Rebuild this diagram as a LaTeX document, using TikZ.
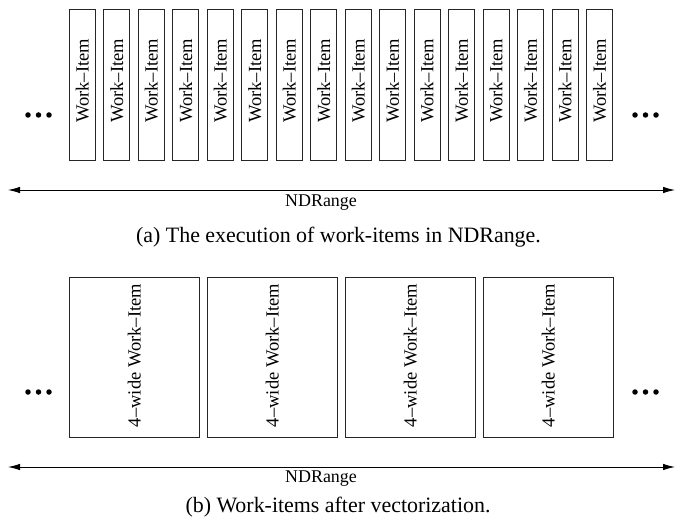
\documentclass[tikz,border=0pt]{standalone}
\usepackage{fontspec}
\setmainfont{Liberation Serif}
\usetikzlibrary{arrows.meta}
\begin{document}
\begin{tikzpicture}[x=1bp,y=-1bp,
  wibox/.style={draw=black!85,line width=0.9bp,minimum width=26bp,minimum height=151bp,inner sep=0pt,anchor=north west},
  widebox/.style={draw=black!85,line width=0.9bp,minimum width=130bp,minimum height=160bp,inner sep=0pt,anchor=north west},
  boxtext/.style={font=\fontsize{18.6}{18.6}\selectfont,rotate=90},
  dotmark/.style={circle,fill=black,inner sep=0pt,minimum size=5.5bp},
  rangearrow/.style={{Latex[length=12bp,width=6.5bp]}-{Latex[length=12bp,width=6.5bp]},line width=0.9bp},
  lbltext/.style={font=\fontsize{18}{18}\selectfont,inner sep=0pt},
  captext/.style={font=\fontsize{22}{22}\selectfont,inner sep=0pt}]
\useasboundingbox (0,0) rectangle (676,520);
% ---- (a) ----
\foreach \i in {0,...,15}{
  \node[wibox] (w\i) at ({69+\i*34.47},9) {};
  \node[boxtext] (wt\i) at ([yshift=4bp]w\i.center) {Work–Item};
}
\node[dotmark] (la1) at (28,115) {};
\node[dotmark] (la2) at (38.5,115) {};
\node[dotmark] (la3) at (49,115) {};
\node[dotmark] (ra1) at (635,115) {};
\node[dotmark] (ra2) at (645.5,115) {};
\node[dotmark] (ra3) at (656,115) {};
\coordinate (aL) at (8,190);
\coordinate (aR) at (675,190);
\draw[rangearrow] (aL) -- (aR);
\node[lbltext] (ndA) at (321,203) {NDRange};
\node[captext] (capA) at (338.5,237) {(a) The execution of work-items in NDRange.};
% ---- (b) ----
\foreach \i in {0,...,3}{
  \node[widebox] (v\i) at ({69+\i*138},277) {};
  \node[boxtext] (vt\i) at ([yshift=2bp]v\i.center) {4–wide Work–Item};
}
\node[dotmark] (lb1) at (28,392) {};
\node[dotmark] (lb2) at (38.5,392) {};
\node[dotmark] (lb3) at (49,392) {};
\node[dotmark] (rb1) at (635,392) {};
\node[dotmark] (rb2) at (645.5,392) {};
\node[dotmark] (rb3) at (656,392) {};
\coordinate (bL) at (8,467);
\coordinate (bR) at (675,467);
\draw[rangearrow] (bL) -- (bR);
\node[lbltext] (ndB) at (321,479) {NDRange};
\node[captext] (capB) at (338,507) {(b) Work-items after vectorization.};
\end{tikzpicture}
\end{document}
